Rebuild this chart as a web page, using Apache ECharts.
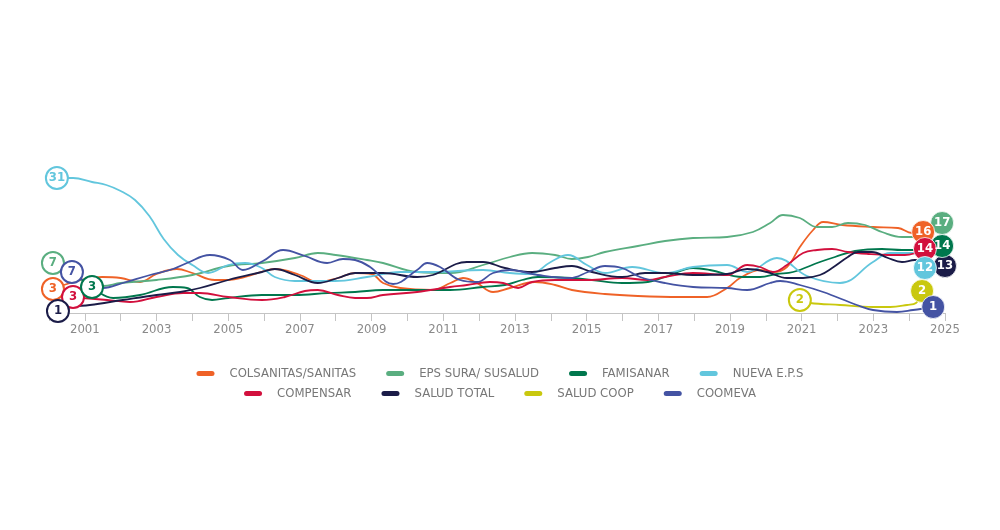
<!DOCTYPE html>
<html><head><meta charset="utf-8">
<script src="https://cdn.jsdelivr.net/npm/echarts@6/dist/echarts.min.js"></script>
<style>html,body{margin:0;background:#fff}#c{width:1000px;height:530px}</style>
</head><body><div id="c"></div>
<script>
// x: year, y: relative position level (hidden axis)
const tickYears = [2001,2003,2005,2007,2009,2011,2013,2015,2017,2019,2021,2023,2025];
const seriesNames = ['COLSANITAS/SANITAS','EPS SURA/ SUSALUD','FAMISANAR','NUEVA E.P.S','COMPENSAR','SALUD TOTAL','SALUD COOP','COOMEVA'];
const seriesColors = ['#ef6227','#5aae80','#00774d','#62c6dd','#d2103d','#1b1c48','#c9c80e','#4453a3'];
const startText = ['3','7','3','31','3','1','2','7'];
const endText = ['16','17','14','12','14','13','2','1'];

const colsanitas = [[2000.11,24],[2001.48,36],[2002.0,35],[2002.54,31],[2003.0,39],[2003.57,44],[2004.0,40],[2004.63,33],[2005.0,33],[2005.47,36],[2006.0,42],[2006.3,44],[2007.0,38],[2007.5,31],[2008.06,35],[2008.54,40],[2009.0,39],[2009.32,30],[2009.8,25],[2010.7,23],[2011.2,30],[2011.55,35],[2011.94,30],[2012.39,21],[2012.86,25],[2013.56,31],[2014.12,28],[2014.59,23],[2015.51,19],[2016.43,17],[2017.6,16],[2018.36,16],[2018.92,25],[2019.28,35],[2019.84,43],[2020.2,41],[2020.59,46],[2020.95,66],[2021.32,83],[2021.6,91],[2022.13,88],[2022.99,86],[2023.69,85],[2024.08,80],[2024.39,81]];
const epsSura = [[2000.11,50],[2001.51,27],[2002.0,30],[2003.0,33],[2004.0,38],[2005.0,47],[2005.94,50],[2006.86,55],[2007.5,60],[2008.0,58],[2008.87,53],[2009.32,50],[2010.27,41],[2011.19,40],[2012.11,48],[2012.86,56],[2013.48,60],[2014.12,58],[2014.59,54],[2015.04,56],[2015.51,61],[2016.43,67],[2017.19,72],[2017.97,75],[2018.92,76],[2019.64,81],[2020.12,90],[2020.48,98],[2020.95,95],[2021.43,86],[2021.85,86],[2022.29,90],[2022.77,88],[2023.24,81],[2023.8,76],[2024.22,76],[2024.92,90]];
const famisanar = [[2001.2,26],[2001.79,15],[2002.54,18],[2003.46,26],[2003.85,25],[2004.21,16],[2004.55,13],[2005.0,15],[2005.94,18],[2006.86,18],[2007.78,20],[2008.54,21],[2009.32,23],[2010.27,23],[2011.19,23],[2012.11,26],[2012.72,28],[2013.2,33],[2013.64,36],[2014.59,35],[2015.15,33],[2015.99,30],[2016.71,31],[2017.19,36],[2017.97,45],[2018.44,43],[2019.36,36],[2019.84,36],[2020.31,39],[2020.76,41],[2021.51,51],[2021.93,56],[2022.49,62],[2023.24,64],[2023.8,63],[2024.16,63],[2024.92,67]];
const nuevaEps = [[2000.22,135],[2000.67,135],[2001.2,131],[2001.6,128],[2002.0,122],[2002.4,113],[2002.8,97],[2003.2,74],[2003.6,58],[2004.0,48],[2004.44,40],[2005.0,48],[2005.47,50],[2005.94,45],[2006.3,36],[2006.86,32],[2007.98,32],[2008.87,36],[2009.8,41],[2010.71,41],[2012.11,43],[2012.86,40],[2013.42,39],[2014.0,51],[2014.48,58],[2015.01,48],[2015.51,40],[2016.27,46],[2017.19,40],[2017.97,46],[2018.92,48],[2019.48,41],[2020.31,55],[2021.15,37],[2022.07,30],[2022.99,51],[2023.47,60],[2024.11,60],[2024.44,45]];
const compensar = [[2000.67,16],[2000.95,15],[2001.62,13],[2002.26,11],[2003.0,16],[2003.74,20],[2004.21,20],[2005.0,16],[2005.94,13],[2006.58,16],[2007.14,22],[2007.5,23],[2008.06,18],[2008.54,15],[2008.87,15],[2009.32,18],[2010.27,21],[2011.19,26],[2011.66,28],[2012.3,31],[2012.67,30],[2013.09,25],[2013.48,31],[2014.12,33],[2015.04,33],[2015.99,35],[2016.71,33],[2017.19,36],[2017.97,40],[2018.92,38],[2019.48,48],[2019.84,46],[2020.2,41],[2020.59,48],[2021.04,60],[2021.43,63],[2021.85,64],[2022.29,61],[2022.85,59],[2023.41,58],[2023.88,58],[2024.44,64]];
const saludTotal = [[2000.25,2],[2000.59,6],[2001.14,8],[2002.06,13],[2003.0,18],[2003.66,21],[2004.21,25],[2005.0,33],[2005.94,41],[2006.3,44],[2006.86,38],[2007.5,30],[2008.06,35],[2008.54,40],[2009.32,40],[2010.27,36],[2010.71,38],[2011.66,51],[2012.11,51],[2012.72,45],[2013.48,41],[2014.12,45],[2014.59,47],[2015.15,41],[2015.99,36],[2016.63,40],[2017.19,40],[2017.97,38],[2018.92,39],[2019.48,44],[2020.03,41],[2020.59,35],[2021.04,35],[2021.51,38],[2021.85,45],[2022.29,56],[2022.57,61],[2022.96,61],[2023.41,55],[2023.8,51],[2024.16,53],[2025.0,47]];
const saludCoop = [[2020.95,13],[2021.23,10],[2022.07,8],[2022.99,6],[2023.47,6],[2023.94,8],[2024.19,10],[2024.36,22]];
const coomeva = [[2000.64,41],[2001.51,25],[2002.06,30],[2002.82,38],[2003.46,44],[2003.85,50],[2004.49,58],[2005.05,53],[2005.41,43],[2005.97,52],[2006.53,63],[2007.14,57],[2007.76,50],[2008.2,54],[2008.54,53],[2008.96,46],[2009.6,29],[2010.27,43],[2010.55,50],[2010.91,46],[2011.47,33],[2011.94,31],[2012.39,40],[2012.86,43],[2013.64,38],[2014.54,35],[2015.04,41],[2015.51,47],[2015.99,45],[2016.49,36],[2017.19,30],[2017.97,26],[2018.92,25],[2019.48,23],[2020.12,30],[2020.4,32],[2020.95,28],[2021.6,21],[2022.54,8],[2022.99,3],[2023.66,1],[2024.11,3],[2024.67,6]];

const seriesData = [colsanitas, epsSura, famisanar, nuevaEps, compensar, saludTotal, saludCoop, coomeva];
// drawing order of labels (later on top)
const startOrder = [1,0,3,7,4,5,2,6];
const endOrder = [1,5,2,0,4,3,6,7];

const FONT = '"Liberation Sans Narrow","DejaVu Sans Condensed","Roboto",sans-serif';

const lineSeries = seriesData.map((d,i)=>({
  name: seriesNames[i], type:'line', data:d, smooth:0.4, showSymbol:false,
  color: seriesColors[i], lineStyle:{width:1.8, color: seriesColors[i]},
  emphasis:{disabled:true}, silent:true, z:2
}));

const startSeries = {
  type:'scatter', z:5, silent:true, symbolSize:22,
  data: startOrder.map(i=>({
    value: seriesData[i][0],
    itemStyle:{color:'#fff', borderColor:seriesColors[i], borderWidth:2, opacity:1},
    label:{show:true, formatter:startText[i], color:seriesColors[i], fontFamily:FONT, fontWeight:'bold', fontSize:13}
  }))
};
const endSeries = {
  type:'scatter', z:6, silent:true, symbolSize:23,
  data: endOrder.map(i=>({
    value: seriesData[i][seriesData[i].length-1],
    itemStyle:{color:seriesColors[i], borderColor:'#fff', borderWidth:0.8, opacity:1},
    label:{show:true, formatter:endText[i], color:'#fff', fontFamily:FONT, fontWeight:'bold', fontSize:13}
  }))
};

const legendIcon = 'path://M2.5,0 L15.5,0 A2.5,2.5 0 0 1 15.5,5 L2.5,5 A2.5,2.5 0 0 1 2.5,0 Z';
const legendBase = {
  left:'center', orient:'horizontal', icon:legendIcon, itemWidth:18, itemHeight:5, itemGap:30,
  textStyle:{color:'#777', fontSize:13, fontFamily:FONT, padding:[0,0,0,10]},
  selectedMode:false
};

const chart = echarts.init(document.getElementById('c'), null, {renderer:'canvas'});
chart.setOption({
  animation:false,
  backgroundColor:'#fff',
  grid:{left:49, right:55, top:163, bottom:217, containLabel:false},
  legend:[
    Object.assign({}, legendBase, {top:362, data:seriesNames.slice(0,4)}),
    Object.assign({}, legendBase, {top:382, data:seriesNames.slice(4)})
  ],
  xAxis:{
    type:'value', min:2000, max:2025, interval:1,
    axisLine:{show:true, lineStyle:{color:'#c4c4c4', width:1}},
    axisTick:{show:true, length:8, lineStyle:{color:'#c4c4c4'}},
    splitLine:{show:false},
    axisLabel:{margin:10, color:'#8a8a8a', fontSize:13, fontFamily:FONT,
      formatter:v=> tickYears.includes(v) ? String(v) : ''}
  },
  yAxis:{type:'value', min:0, max:150, show:false},
  series:[...lineSeries, startSeries, endSeries]
});
</script></body></html>
